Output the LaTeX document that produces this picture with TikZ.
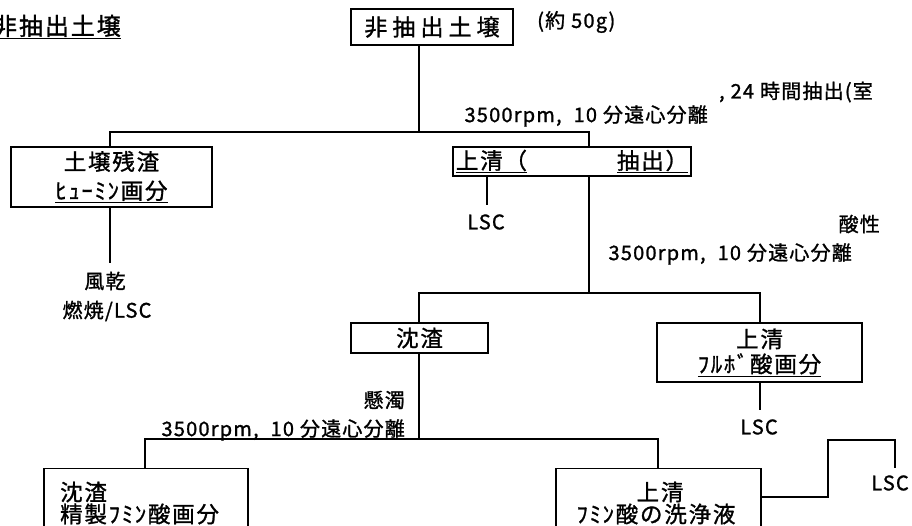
\documentclass[tikz,border=0pt]{standalone}
\usepackage{fontspec}
\setmainfont{Noto Sans CJK JP}
\newfontfamily\boxfont[LetterSpace=8,FakeBold=1.2]{Noto Sans CJK JP}
\newfontfamily\topfont[LetterSpace=22,FakeBold=1.2]{Noto Sans CJK JP}
\newfontfamily\lblfont[LetterSpace=6,FakeBold=1.2]{Noto Sans CJK JP}
\begin{document}
\begin{tikzpicture}[x=1pt,y=-1pt,
  box/.style={draw,line width=1.4pt,inner sep=0pt,align=center,
    font=\boxfont\fontsize{22.5}{29}\selectfont},
  btxt/.style={inner sep=0pt,font=\boxfont\fontsize{22.5}{29}\selectfont},
  lbl/.style={inner sep=0pt,font=\lblfont\fontsize{20}{22}\selectfont},
  ln/.style={line width=1.4pt}]
\useasboundingbox (0,0) rectangle (912,526);

% title
\node[btxt,anchor=east,font=\boxfont\fontsize{24}{28}\selectfont] (title) at (121,27) {\underline{非抽出土壌}};

% boxes
\node[box,minimum width=162pt,minimum height=36pt,font=\topfont\fontsize{23}{26}\selectfont] (top) at (432,27) {非抽出土壌};
\node[lbl,anchor=west] (amt) at (537,22) {(約\hspace{0.3em}50g)};

\node[box,minimum width=201pt,minimum height=60pt] (res) at (111.5,177) {土壌残渣\\\underline{ﾋｭｰﾐﾝ画分}};
\node[box,minimum width=238pt,minimum height=29pt] (sup1) at (572,161.5) {\underline{上清（}\hspace{90pt}\underline{抽出）}};
\node[box,minimum width=137pt,minimum height=30pt] (sed) at (419.5,338) {沈渣};
\node[box,minimum width=205pt,minimum height=59pt,font=\boxfont\fontsize{22.5}{25}\selectfont] (fulv) at (759.5,352.5) {上清\\\underline{ﾌﾙﾎﾞ酸画分}};
\node[box,minimum width=204pt,minimum height=90pt,anchor=north] (pure) at (146,468) {};
\node[box,minimum width=205pt,minimum height=90pt,anchor=north] (wash) at (658.5,468) {};

% texts in the lower boxes
\node[btxt,anchor=west] (pure1) at (60,492) {沈渣};
\node[btxt,anchor=west] (pure2) at (60,514) {精製ﾌﾐﾝ酸画分};
\node[btxt] (wash1) at (660,492) {上清};
\node[btxt] (wash2) at (656,514) {ﾌﾐﾝ酸の洗浄液};

% step labels
\node[lbl,anchor=east] (l1a) at (873,92) {,\hspace{0.3em}24\hspace{0.3em}時間抽出(室};
\node[lbl,anchor=east] (l1b) at (708,116) {3500rpm,\hspace{0.6em}10\hspace{0.3em}分遠心分離};
\node[lbl,anchor=east] (l2a) at (880,224) {酸性};
\node[lbl,anchor=east] (l2b) at (852,254) {3500rpm,\hspace{0.6em}10\hspace{0.3em}分遠心分離};
\node[lbl,anchor=east] (l3a) at (405,400) {懸濁};
\node[lbl,anchor=east] (l3b) at (405,430) {3500rpm,\hspace{0.6em}10\hspace{0.3em}分遠心分離};

\node[lbl] (dry) at (105,281) {風乾};
\node[lbl] (burn) at (107,311) {燃焼/LSC};
\node[lbl] (lsc1) at (486,222) {LSC};
\node[lbl] (lsc2) at (759,427) {LSC};
\node[lbl] (lsc3) at (890,483) {LSC};

% junction coordinates
\coordinate (j1) at (419,132);
\coordinate (jL) at (110,132);
\coordinate (jR) at (589,132);
\coordinate (e1) at (110,263);
\coordinate (e2) at (487,205);
\coordinate (j2) at (589,293);
\coordinate (j2L) at (419,293);
\coordinate (j2R) at (760,293);
\coordinate (j3) at (419,439);
\coordinate (j3L) at (145,439);
\coordinate (j3R) at (658,439);
\coordinate (e3) at (760,410);
\coordinate (k1) at (828,497);
\coordinate (k2) at (828,440);
\coordinate (k3) at (895,440);
\coordinate (e4) at (895,468);

% connectors
\draw[ln] (top.south -| j1) -- (j1);
\draw[ln] (res.north -| jL) -- (jL) -- (jR) -- (sup1.north -| jR);
\draw[ln] (res.south -| e1) -- (e1);
\draw[ln] (sup1.south -| e2) -- (e2);
\draw[ln] (sup1.south -| j2) -- (j2);
\draw[ln] (sed.north -| j2L) -- (j2L) -- (j2R) -- (fulv.north -| j2R);
\draw[ln] (sed.south -| j3) -- (j3);
\draw[ln] (pure.north -| j3L) -- (j3L) -- (j3R) -- (wash.north -| j3R);
\draw[ln] (fulv.south -| e3) -- (e3);
\draw[ln] (wash.east |- k1) -- (k1) -- (k2) -- (k3) -- (e4);
\end{tikzpicture}
\end{document}
